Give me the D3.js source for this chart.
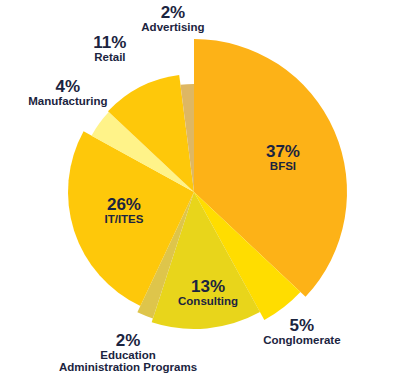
<!DOCTYPE html>
<html>
<head>
<meta charset="utf-8">
<script src="https://cdn.jsdelivr.net/npm/d3@7"></script>
<style>
  html, body { margin: 0; padding: 0; background: #ffffff; }
  svg { display: block; }
  text { font-family: "Liberation Sans", Arial, sans-serif; font-weight: bold; fill: #1b2440; }
</style>
</head>
<body>
<svg id="chart" width="395" height="392"></svg>
<script>
// ---- data ----
const categories = ["BFSI", "Conglomerate", "Consulting", "Education\nAdministration Programs", "IT/ITES", "Manufacturing", "Retail", "Advertising"];
const shares = [37, 5, 13, 2, 26, 4, 11, 2];
const percentLabels = ["37%", "5%", "13%", "2%", "26%", "4%", "11%", "2%"];

// ---- styling / layout (kept separate from data) ----
const colors = ["#FDB217", "#FFDD00", "#E8D51B", "#DEC54B", "#FEC80A", "#FFF389", "#FEC80A", "#DEB763"];
const outerRadii = [153, 146, 137, 133, 126, 117, 118, 108];
const labelAngleDeg = [68.5, 142.2, 172, 203.2, 255.6, 308.4, 329.7, 353.1];
const labelRadius = [95.6, 176, 101, 167.5, 72.3, 160.9, 166.7, 175.3];

const cx = 194, cy = 192;
const svg = d3.select("#chart");
const g = svg.append("g").attr("transform", `translate(${cx},${cy})`);

const pie = d3.pie().sort(null).value(d => d.value);
const rows = categories.map((c, i) => ({ name: c, value: shares[i], pct: percentLabels[i], i }));
const arcs = pie(rows);

// draw smaller slices first so bigger ones sit on top (no visible difference, but neat)
g.selectAll("path.slice")
  .data(arcs)
  .join("path")
  .attr("class", "slice")
  .attr("fill", d => colors[d.data.i])
  .attr("d", d => d3.arc().innerRadius(0).outerRadius(outerRadii[d.data.i])(d));

// labels
const lab = g.selectAll("g.lab")
  .data(arcs)
  .join("g")
  .attr("class", "lab")
  .attr("transform", d => {
    const a = labelAngleDeg[d.data.i] * Math.PI / 180;
    const r = labelRadius[d.data.i];
    return `translate(${r * Math.sin(a)},${-r * Math.cos(a)})`;
  });

lab.append("text")
  .attr("text-anchor", "middle")
  .attr("font-size", 17)
  .text(d => d.data.pct);

lab.each(function(d) {
  const lines = d.data.name.split("\n");
  const sel = d3.select(this);
  lines.forEach((ln, k) => {
    sel.append("text")
      .attr("text-anchor", "middle")
      .attr("font-size", 11.5)
      .attr("y", 13 + k * 12.5)
      .text(ln);
  });
});
</script>
</body>
</html>
